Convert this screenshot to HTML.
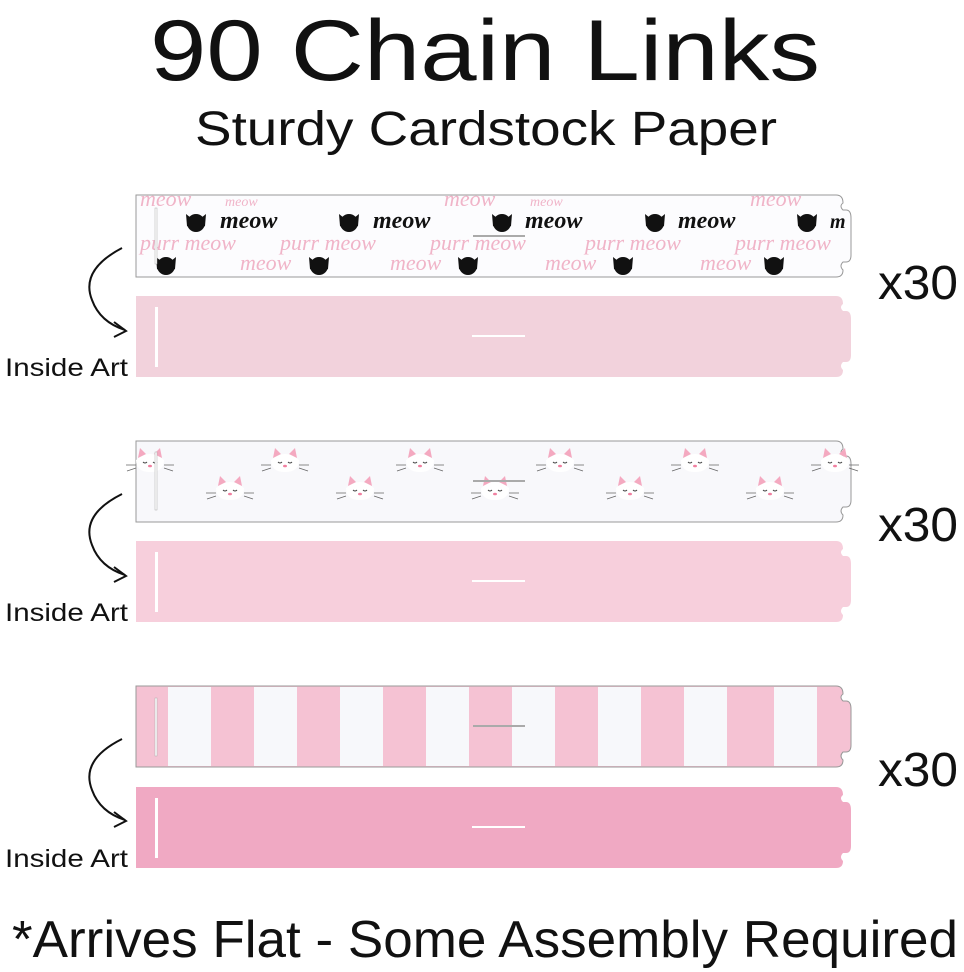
<!DOCTYPE html>
<html><head><meta charset="utf-8"><style>
html,body{margin:0;padding:0;background:#fff;width:964px;height:972px;overflow:hidden}
svg{display:block}
</style></head><body>
<svg width="964" height="972" viewBox="0 0 964 972" xmlns="http://www.w3.org/2000/svg" font-family="Liberation Sans, sans-serif">
<defs>
  <g id="cat"><path d="M-10,-8 L-9,4 Q0,10 9,4 L10,-8 L5,-4 Q0,-5 -5,-4 Z" fill="#111"/><circle cx="0" cy="1" r="9" fill="#111"/></g>
  <g id="wcat"><path d="M-14,-2 Q0,-14 14,-2 Q14,10 0,10 Q-14,10 -14,-2Z" fill="#fff"/><path d="M-12,-4 L-10,-14 L-4,-8Z M12,-4 L10,-14 L4,-8Z" fill="#f4a9c0"/><path d="M-7,0 q2,2 4,0 M3,0 q2,2 4,0" stroke="#444" fill="none" stroke-width="1"/><path d="M-14,3 h-10 M-14,6 l-9,3 M14,3 h10 M14,6 l9,3" stroke="#666" stroke-width="0.8"/><ellipse cx="0" cy="4" rx="2" ry="1.3" fill="#f080a0"/></g>
</defs>

<text x="150" y="80" font-size="86" fill="#111" textLength="670" lengthAdjust="spacingAndGlyphs">90 Chain Links</text>
<text x="195" y="145" font-size="48" fill="#111" textLength="582" lengthAdjust="spacingAndGlyphs">Sturdy Cardstock Paper</text>

<!-- Strip 1 front -->
<g>
<path d="M136,195 H836 Q843,195 843,203 Q839,206 843,210 H846 Q851,210 851,218 V255 Q851,262 846,262 H843 Q839,266 843,270 Q843,277 836,277 H136 Z" fill="#fcfcfe" stroke="#999" stroke-width="1"/>
<g font-family="Liberation Serif, serif" font-style="italic" fill="#f0b4c8" font-size="22">
<text x="140" y="206">meow</text><text x="444" y="206">meow</text><text x="750" y="206">meow</text>
<text x="225" y="206" font-size="14">meow</text><text x="530" y="206" font-size="14">meow</text>
<text x="140" y="250">purr meow</text><text x="280" y="250">purr meow</text><text x="430" y="250">purr meow</text><text x="585" y="250">purr meow</text><text x="735" y="250">purr meow</text>
<text x="240" y="270">meow</text><text x="390" y="270">meow</text><text x="545" y="270">meow</text><text x="700" y="270">meow</text>
</g>
<g font-family="Liberation Serif, serif" font-style="italic" font-weight="bold" fill="#111" font-size="24">
<text x="220" y="228">meow</text><text x="373" y="228">meow</text><text x="525" y="228">meow</text><text x="678" y="228">meow</text><text x="830" y="228" font-size="20">m</text>
</g>
<use href="#cat" x="196" y="222"/><use href="#cat" x="349" y="222"/><use href="#cat" x="502" y="222"/><use href="#cat" x="655" y="222"/><use href="#cat" x="807" y="222"/>
<use href="#cat" x="166" y="265"/><use href="#cat" x="319" y="265"/><use href="#cat" x="468" y="265"/><use href="#cat" x="623" y="265"/><use href="#cat" x="774" y="265"/>
<rect x="155" y="208" width="2" height="56" fill="#fff" stroke="#aaa" stroke-width="0.5"/>
<rect x="473" y="235" width="52" height="2" fill="#aaa"/>
</g>
<path d="M136,296 H836 Q843,296 843,304 Q839,307 843,311 H846 Q851,311 851,319 V355 Q851,362 846,362 H843 Q839,366 843,370 Q843,377 836,377 H136 Z" fill="#f2d2dc"/>
<rect x="155" y="307" width="3" height="60" fill="#fff"/>
<rect x="472" y="335" width="53" height="2" fill="#fff"/>

<!-- Strip 2 front -->
<path d="M136,441 H836 Q843,441 843,449 Q839,452 843,456 H846 Q851,456 851,464 V500 Q851,507 846,507 H843 Q839,511 843,515 Q843,522 836,522 H136 Z" fill="#f8f8fb" stroke="#999" stroke-width="1"/>
<use href="#wcat" x="150" y="462"/><use href="#wcat" x="285" y="462"/><use href="#wcat" x="420" y="462"/><use href="#wcat" x="560" y="462"/><use href="#wcat" x="695" y="462"/><use href="#wcat" x="835" y="462"/>
<use href="#wcat" x="230" y="490"/><use href="#wcat" x="360" y="490"/><use href="#wcat" x="495" y="490"/><use href="#wcat" x="630" y="490"/><use href="#wcat" x="770" y="490"/>
<rect x="155" y="452" width="2" height="58" fill="#fff" stroke="#aaa" stroke-width="0.5"/>
<rect x="473" y="480" width="52" height="2" fill="#aaa"/>
<path d="M136,541 H836 Q843,541 843,549 Q839,552 843,556 H846 Q851,556 851,564 V600 Q851,607 846,607 H843 Q839,611 843,615 Q843,622 836,622 H136 Z" fill="#f7cfdc"/>
<rect x="155" y="552" width="3" height="60" fill="#fff"/>
<rect x="472" y="580" width="53" height="2" fill="#fff"/>

<!-- Strip 3 front -->
<path d="M136,686 H836 Q843,686 843,694 Q839,697 843,701 H846 Q851,701 851,709 V745 Q851,752 846,752 H843 Q839,756 843,760 Q843,767 836,767 H136 Z" fill="#f5c2d3" stroke="#999" stroke-width="1"/>
<g fill="#f7f8fb">
<rect x="168" y="687" width="43" height="79"/><rect x="254" y="687" width="43" height="79"/><rect x="340" y="687" width="43" height="79"/><rect x="426" y="687" width="43" height="79"/><rect x="512" y="687" width="43" height="79"/><rect x="598" y="687" width="43" height="79"/><rect x="684" y="687" width="43" height="79"/><rect x="774" y="687" width="43" height="79"/>
</g>
<rect x="155" y="698" width="2" height="58" fill="#fff" stroke="#aaa" stroke-width="0.5"/>
<rect x="473" y="725" width="52" height="2" fill="#aaa"/>
<path d="M136,787 H836 Q843,787 843,795 Q839,798 843,802 H846 Q851,802 851,810 V846 Q851,853 846,853 H843 Q839,857 843,861 Q843,868 836,868 H136 Z" fill="#f0a9c3"/>
<rect x="155" y="798" width="3" height="60" fill="#fff"/>
<rect x="472" y="826" width="53" height="2" fill="#fff"/>

<!-- arrows and labels -->
<g fill="none" stroke="#111" stroke-width="2">
<path d="M122,248 Q80,270 92,300 Q100,322 125,330"/><path d="M114,322 L126,331 L114,337"/>
<path d="M122,494 Q80,515 92,545 Q100,567 125,575"/><path d="M114,567 L126,576 L114,582"/>
<path d="M122,739 Q80,760 92,790 Q100,812 125,820"/><path d="M114,812 L126,821 L114,827"/>
</g>
<g font-size="25" fill="#111">
<text x="5" y="376" textLength="123" lengthAdjust="spacingAndGlyphs">Inside Art</text><text x="5" y="621" textLength="123" lengthAdjust="spacingAndGlyphs">Inside Art</text><text x="5" y="867" textLength="123" lengthAdjust="spacingAndGlyphs">Inside Art</text>
</g>
<g font-size="48" fill="#111">
<text x="878" y="299" textLength="80" lengthAdjust="spacingAndGlyphs">x30</text><text x="878" y="541" textLength="80" lengthAdjust="spacingAndGlyphs">x30</text><text x="878" y="786" textLength="80" lengthAdjust="spacingAndGlyphs">x30</text>
</g>
<text x="12" y="957" font-size="52" fill="#111" textLength="946" lengthAdjust="spacingAndGlyphs">*Arrives Flat - Some Assembly Required</text>
</svg>
</body></html>
